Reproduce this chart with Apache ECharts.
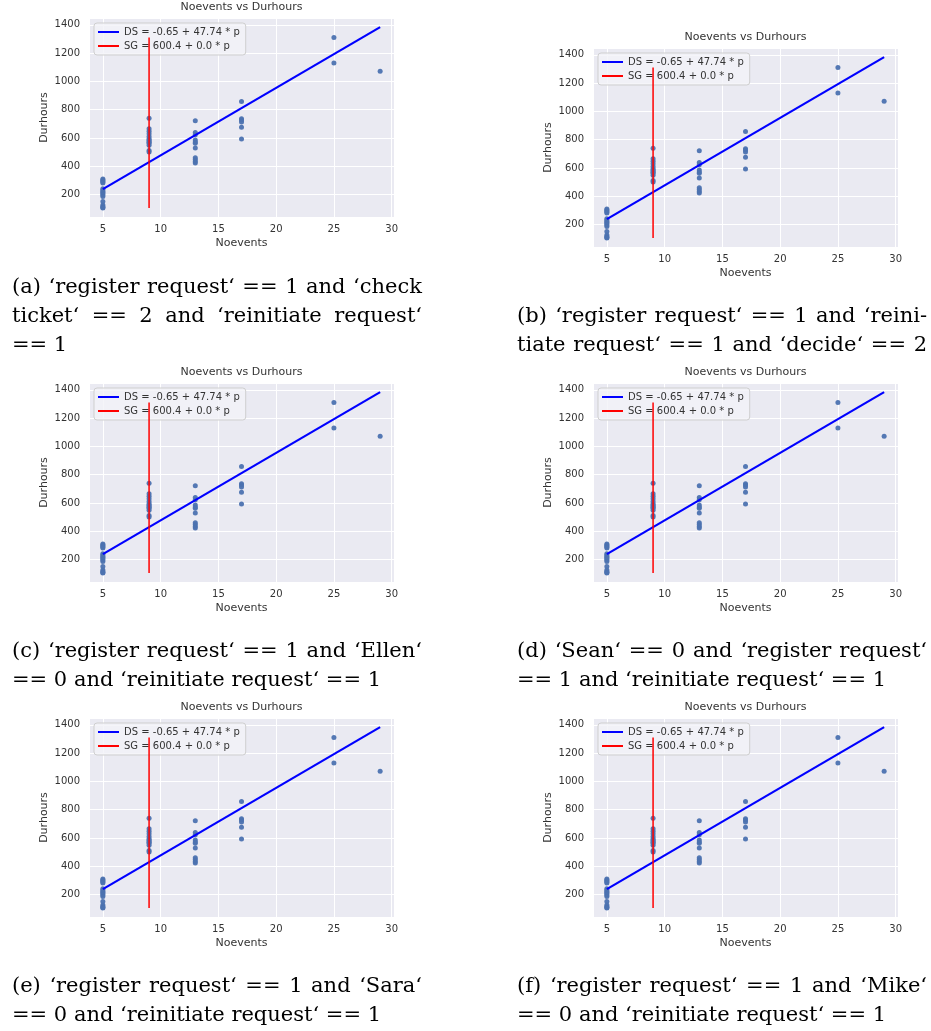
<!DOCTYPE html>
<html>
<head>
<meta charset="utf-8">
<script src="https://cdn.jsdelivr.net/npm/echarts@6/dist/echarts.min.js"></script>
<style>
  html, body { margin: 0; padding: 0; background: #fff; }
  #wrap { position: relative; width: 931px; height: 1031px; }
  #chart { position: absolute; left: 0; top: 0; width: 931px; height: 1031px; }
  .cap { position: absolute; width: 410px; font-family: 'DejaVu Serif', serif; font-size: 21px; line-height: 29px; color: #000; }
  .cap div { white-space: nowrap; }
  .cap .j { text-align: justify; text-align-last: justify; }
</style>
</head>
<body>
<div id="wrap">
  <div id="chart"></div>
</div>
<script>
// scatter points, grouped by Noevents value
const noevents = [5, 9, 13, 17, 25, 29];
const durhours = [
    [310, 302, 295, 288, 282, 240, 232, 222, 214, 205, 196, 186, 150, 125, 116, 108, 105],
    [740, 665, 648, 630, 610, 595, 585, 578, 570, 562, 548, 512, 500],
    [722, 638, 622, 585, 572, 562, 528, 460, 448, 433, 422],
    [857, 736, 726, 712, 676, 592],
    [1310, 1130],
    [1072]
];

// fitted lines
const dsName = 'DS = -0.65 + 47.74 * p';
const dsX = [5, 29];
const dsY = [238.05, 1383.81];
const sgName = 'SG = 600.4 + 0.0 * p';
const sgX = [9, 9];
const sgY = [105, 1310];

const xRange = [3.8, 30.2];
const yRange = [41, 1448];

const chartTitle = 'Noevents vs Durhours';
const captions = [
    ['(a) ‘register request‘ == 1 and ‘check', 'ticket‘ == 2 and ‘reinitiate request‘', '== 1'],
    ['(b) ‘register request‘ == 1 and ‘reini-', 'tiate request‘ == 1 and ‘decide‘ == 2'],
    ['(c) ‘register request‘ == 1 and ‘Ellen‘', '== 0 and ‘reinitiate request‘ == 1'],
    ['(d) ‘Sean‘ == 0 and ‘register request‘', '== 1 and ‘reinitiate request‘ == 1'],
    ['(e) ‘register request‘ == 1 and ‘Sara‘', '== 0 and ‘reinitiate request‘ == 1'],
    ['(f) ‘register request‘ == 1 and ‘Mike‘', '== 0 and ‘reinitiate request‘ == 1']
];
const justified = [[true, true, false], [true, true], [true, false], [true, false], [true, false], [true, false]];

// plot area corners for each panel, and caption anchors
const panels = [[89, 18], [593, 48], [89, 383], [593, 383], [89, 718], [593, 718]];
const capPos = [[12, 272], [517, 301], [12, 636], [517, 636], [12, 971], [517, 971]];
const PW = 305, PH = 199;

const font = 'DejaVu Sans';
const textColor = '#333333';

const points = [];
noevents.forEach((x, i) => durhours[i].forEach(y => points.push([x, y])));
const dsData = dsX.map((x, i) => [x, dsY[i]]);
const sgData = sgX.map((x, i) => [x, sgY[i]]);

const grids = [], xAxes = [], yAxes = [], titles = [], legends = [], series = [];

panels.forEach(([left, top], i) => {
    grids.push({
        left: left, top: top, width: PW, height: PH,
        show: true, backgroundColor: '#EAEAF2', borderWidth: 0,
        containLabel: false, outerBoundsMode: 'none'
    });
    xAxes.push({
        gridIndex: i, type: 'value',
        min: xRange[0], max: xRange[1], splitNumber: 5,
        name: 'Noevents', nameLocation: 'middle', nameGap: 21,
        nameTextStyle: { fontFamily: font, fontSize: 11, color: textColor },
        axisLine: { show: false }, axisTick: { show: false },
        axisLabel: {
            fontFamily: font, fontSize: 10, color: textColor, margin: 7,
            showMinLabel: false, showMaxLabel: false,
            formatter: v => String(v)
        },
        splitLine: { show: true, lineStyle: { color: '#ffffff', width: 1 } }
    });
    yAxes.push({
        gridIndex: i, type: 'value',
        min: yRange[0], max: yRange[1], splitNumber: 7,
        name: 'Durhours', nameLocation: 'middle', nameGap: 39,
        nameTextStyle: { fontFamily: font, fontSize: 11, color: textColor },
        axisLine: { show: false }, axisTick: { show: false },
        axisLabel: {
            fontFamily: font, fontSize: 10, color: textColor, margin: 9,
            showMinLabel: false, showMaxLabel: false,
            formatter: v => String(v)
        },
        splitLine: { show: true, lineStyle: { color: '#ffffff', width: 1 } }
    });
    titles.push({
        text: chartTitle,
        left: left + PW / 2, top: top - 16, textAlign: 'center', padding: 0,
        textStyle: { fontFamily: font, fontSize: 11, fontWeight: 'normal', color: textColor }
    });
    legends.push({
        data: [dsName, sgName],
        left: left + 5, top: top + 5,
        orient: 'vertical', icon: 'rect',
        itemWidth: 21, itemHeight: 2, itemGap: 2,
        padding: [3, 6, 3, 4],
        selectedMode: false,
        backgroundColor: 'rgba(243,243,247,0.8)',
        borderColor: '#cfcfcf', borderWidth: 1, borderRadius: 3,
        textStyle: { fontFamily: font, fontSize: 10, color: textColor, lineHeight: 12 }
    });
    series.push({
        type: 'scatter', xAxisIndex: i, yAxisIndex: i,
        data: points, symbolSize: 5,
        itemStyle: { color: '#4C72B0', opacity: 0.95 }, z: 2
    });
    series.push({
        name: dsName, type: 'line', xAxisIndex: i, yAxisIndex: i,
        data: dsData, showSymbol: false, symbol: 'none',
        color: '#0000ff', itemStyle: { color: '#0000ff' },
        lineStyle: { color: '#0000ff', width: 2.2 }, z: 3
    });
    series.push({
        name: sgName, type: 'line', xAxisIndex: i, yAxisIndex: i,
        data: sgData, showSymbol: false, symbol: 'none',
        color: '#ff0000', itemStyle: { color: '#ff0000' },
        lineStyle: { color: '#ff0000', width: 1.5 }, z: 4
    });
});

const chart = echarts.init(document.getElementById('chart'));
chart.setOption({
    animation: false,
    title: titles,
    legend: legends,
    grid: grids,
    xAxis: xAxes,
    yAxis: yAxes,
    series: series
});

// figure captions under each panel
const wrap = document.getElementById('wrap');
captions.forEach((lines, i) => {
    const box = document.createElement('div');
    box.className = 'cap';
    box.style.left = capPos[i][0] + 'px';
    box.style.top = capPos[i][1] + 'px';
    lines.forEach((line, k) => {
        const row = document.createElement('div');
        if (justified[i][k]) row.className = 'j';
        row.textContent = line;
        box.appendChild(row);
    });
    wrap.appendChild(box);
});
</script>
</body>
</html>
